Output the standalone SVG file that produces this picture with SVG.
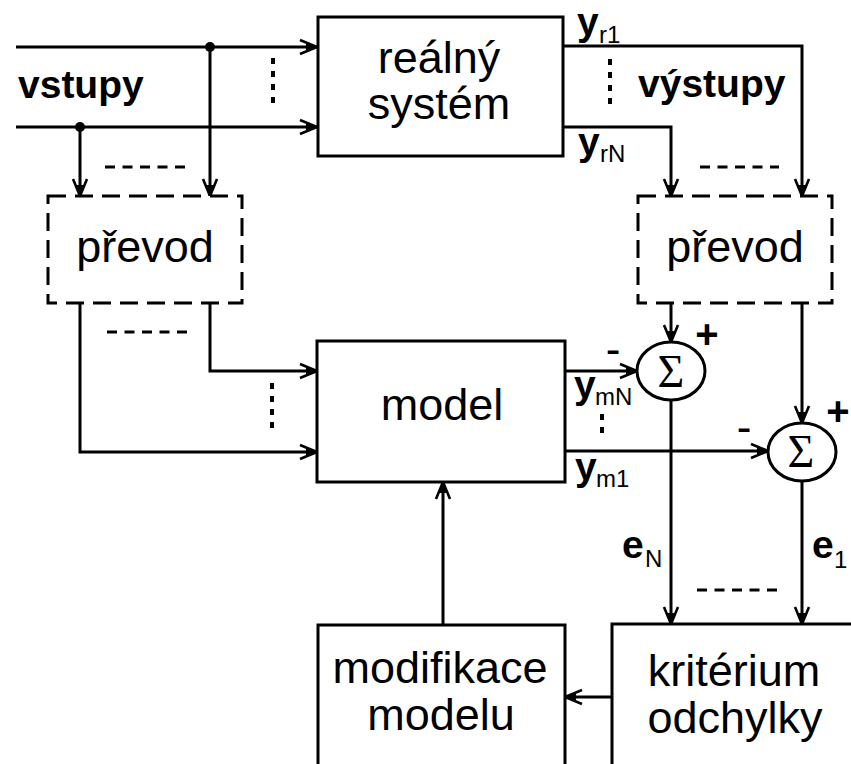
<svg xmlns="http://www.w3.org/2000/svg" width="851" height="764" viewBox="0 0 851 764">
<style>
.box{fill:#fff;stroke:#000;stroke-width:3}
.dbox{fill:#fff;stroke:#000;stroke-width:3;stroke-dasharray:18 9}
.wire{fill:none;stroke:#000;stroke-width:3}
.dots{fill:none;stroke:#000;stroke-width:4;stroke-dasharray:6 7}
.dash{fill:none;stroke:#000;stroke-width:3;stroke-dasharray:10 7.5}
.lbl{font-family:"Liberation Sans",Arial,sans-serif;font-size:45px;fill:#000;text-anchor:middle}
.bold{font-family:"Liberation Sans",Arial,sans-serif;font-size:39px;font-weight:bold;fill:#000}
.sub{font-family:"Liberation Sans",Arial,sans-serif;font-size:24px;font-weight:normal;fill:#000}
.sig{font-family:"Liberation Serif","Times New Roman",serif;font-size:46px;fill:#000;text-anchor:middle}
.sign{font-family:"Liberation Sans",Arial,sans-serif;font-size:40px;font-weight:bold;fill:#000;text-anchor:middle}
.minus{font-family:"Liberation Sans",Arial,sans-serif;font-size:44px;fill:#000;text-anchor:middle}
</style>
<defs>
<marker id="arr" markerUnits="userSpaceOnUse" viewBox="0 0 24 20" markerWidth="24" markerHeight="20" refX="23" refY="10" orient="auto">
<path d="M6,3 L23,10 L6,17" fill="none" stroke="#000" stroke-width="2.6"/>
<path d="M12,6.5 L23,10 L12,13.5 Z" fill="#000"/>
</marker>
</defs>
<rect width="851" height="764" fill="#fff"/>

<g id="connectors">
<path class="wire" d="M16,47 H317" marker-end="url(#arr)"/>
<path class="wire" d="M16,127 H317" marker-end="url(#arr)"/>
<path class="wire" d="M210,47 V196" marker-end="url(#arr)"/>
<path class="wire" d="M80,127 V196" marker-end="url(#arr)"/>
<path class="wire" d="M80,303 V452 H317" marker-end="url(#arr)"/>
<path class="wire" d="M210,303 V371 H317" marker-end="url(#arr)"/>
<path class="wire" d="M563,46 H802 V196" marker-end="url(#arr)"/>
<path class="wire" d="M563,127 H671 V196" marker-end="url(#arr)"/>
<path class="wire" d="M671,303 V342" marker-end="url(#arr)"/>
<path class="wire" d="M802,303 V423" marker-end="url(#arr)"/>
<path class="wire" d="M565,371 H637" marker-end="url(#arr)"/>
<path class="wire" d="M565,451 H768" marker-end="url(#arr)"/>
<path class="wire" d="M671,400 V624" marker-end="url(#arr)"/>
<path class="wire" d="M802,481 V624" marker-end="url(#arr)"/>
<path class="wire" d="M612,697 H565" marker-end="url(#arr)"/>
<path class="wire" d="M443,625 V482" marker-end="url(#arr)"/>
<circle cx="210" cy="47" r="5" fill="#000"/>
<circle cx="80" cy="127" r="5" fill="#000"/>
<line class="dots" x1="273" y1="58" x2="273" y2="110"/>
<line class="dots" x1="610" y1="59" x2="610" y2="110"/>
<line class="dots" x1="272" y1="383" x2="272" y2="435"/>
<line class="dots" x1="602" y1="414" x2="602" y2="436"/>
<line class="dash" x1="105" y1="167" x2="186" y2="167"/>
<line class="dash" x1="700" y1="167" x2="779" y2="167"/>
<line class="dash" x1="107" y1="332" x2="188" y2="332"/>
<line class="dash" x1="697" y1="590" x2="778" y2="590"/>
</g>

<g id="labels">
<text class="bold" x="18" y="98">vstupy</text>
<text class="bold" x="638" y="97">výstupy</text>
<text class="bold" x="577" y="35">y<tspan class="sub" x="599" y="43">r1</tspan></text>
<text class="bold" x="578" y="155">y<tspan class="sub" x="600" y="162">rN</tspan></text>
<text class="bold" x="574" y="398">y<tspan class="sub" x="595" y="405">mN</tspan></text>
<text class="bold" x="575" y="480">y<tspan class="sub" x="596" y="487">m1</tspan></text>
<text class="bold" x="622" y="558">e<tspan class="sub" x="645" y="567">N</tspan></text>
<text class="bold" x="812" y="558">e<tspan class="sub" x="834" y="568">1</tspan></text>
<text class="sign" x="707" y="348">+</text>
<text class="sign" x="838" y="425">+</text>
<text class="minus" x="613" y="364">-</text>
<text class="minus" x="744" y="442">-</text>
</g>

<g id="realny-system">
<rect class="box" x="318" y="17" width="245" height="139"/>
<text class="lbl" x="439" y="73">reálný</text>
<text class="lbl" x="439" y="119">systém</text>
</g>

<g id="prevod-vstup">
<rect class="dbox" x="48" y="196" width="194" height="107"/>
<text class="lbl" x="145" y="262">převod</text>
</g>

<g id="prevod-vystup">
<rect class="dbox" x="638" y="196" width="194" height="107"/>
<text class="lbl" x="735" y="262">převod</text>
</g>

<g id="model">
<rect class="box" x="317" y="341" width="248" height="141"/>
<text class="lbl" x="442" y="420">model</text>
</g>

<g id="sum-N">
<ellipse class="box" cx="671" cy="371" rx="34" ry="29"/>
<text class="sig" x="671" y="387">Σ</text>
</g>

<g id="sum-1">
<ellipse class="box" cx="802" cy="452" rx="34" ry="29"/>
<text class="sig" x="801" y="467">Σ</text>
</g>

<g id="modifikace-modelu">
<rect class="box" x="318" y="625" width="247" height="150"/>
<text class="lbl" x="440" y="683">modifikace</text>
<text class="lbl" x="441" y="730">modelu</text>
</g>

<g id="kriterium-odchylky">
<rect class="box" x="612" y="624" width="250" height="150"/>
<text class="lbl" x="734" y="686">kritérium</text>
<text class="lbl" x="735" y="733">odchylky</text>
</g>
</svg>
